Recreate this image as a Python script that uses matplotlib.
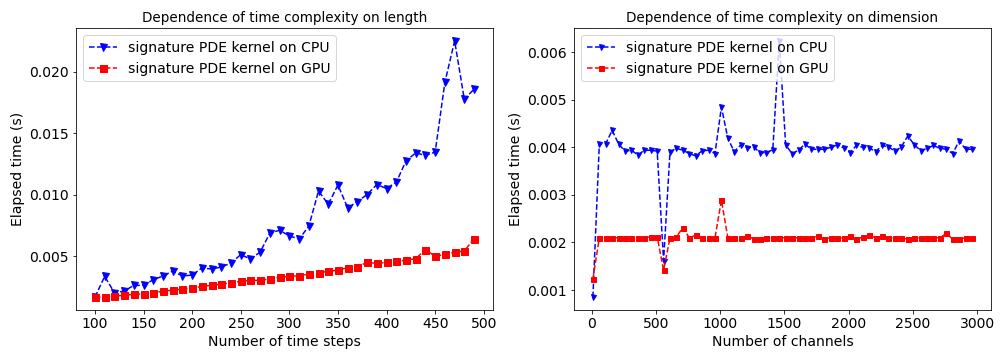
import numpy as np
import matplotlib
matplotlib.use("Agg")
import matplotlib.pyplot as plt

# Dependencia no comprimento (numero de passos de tempo)
passos = list(range(100, 500, 10))
cpu_passos = [0.00168, 0.00337, 0.00204, 0.00217, 0.00264, 0.00264, 0.00310, 0.00340,
              0.00380, 0.00340, 0.00348, 0.00405, 0.00397, 0.00413, 0.00446, 0.00514,
              0.00478, 0.00535, 0.00690, 0.00712, 0.00666, 0.00641, 0.00745, 0.01032,
              0.00924, 0.01081, 0.00894, 0.00946, 0.01003, 0.01084, 0.01052, 0.01103,
              0.01277, 0.01342, 0.01321, 0.01348, 0.01916, 0.02253, 0.01777, 0.01861]
gpu_passos = [0.00168, 0.00168, 0.00176, 0.00184, 0.00190, 0.00195, 0.00203, 0.00217,
              0.00225, 0.00233, 0.00241, 0.00255, 0.00264, 0.00274, 0.00285, 0.00296,
              0.00304, 0.00304, 0.00318, 0.00329, 0.00337, 0.00342, 0.00356, 0.00367,
              0.00378, 0.00388, 0.00408, 0.00416, 0.00451, 0.00443, 0.00451, 0.00459,
              0.00468, 0.00481, 0.00555, 0.00500, 0.00516, 0.00533, 0.00544, 0.00644]

# Dependencia na dimensao (numero de canais)
canais = list(range(10, 3000, 50))
cpu_canais = [0.00085, 0.00408, 0.00408, 0.00436, 0.00407, 0.00392, 0.00394, 0.00384,
              0.00394, 0.00394, 0.00392, 0.00162, 0.00391, 0.00398, 0.00394, 0.00387,
              0.00382, 0.00393, 0.00394, 0.00387, 0.00485, 0.00419, 0.00391, 0.00405,
              0.00399, 0.00401, 0.00389, 0.00389, 0.00395, 0.00624, 0.00405, 0.00387,
              0.00394, 0.00407, 0.00396, 0.00396, 0.00396, 0.00400, 0.00405, 0.00399,
              0.00389, 0.00404, 0.00400, 0.00399, 0.00391, 0.00404, 0.00401, 0.00392,
              0.00401, 0.00424, 0.00406, 0.00393, 0.00398, 0.00404, 0.00398, 0.00396,
              0.00387, 0.00414, 0.00396, 0.00396]
gpu_canais = [0.00124, 0.00210, 0.00210, 0.00210, 0.00210, 0.00210, 0.00210, 0.00210,
              0.00210, 0.00212, 0.00212, 0.00142, 0.00210, 0.00212, 0.00231, 0.00210,
              0.00215, 0.00210, 0.00210, 0.00210, 0.00289, 0.00210, 0.00210, 0.00210,
              0.00213, 0.00208, 0.00208, 0.00210, 0.00210, 0.00210, 0.00210, 0.00210,
              0.00210, 0.00210, 0.00210, 0.00213, 0.00207, 0.00210, 0.00210, 0.00210,
              0.00213, 0.00207, 0.00211, 0.00215, 0.00210, 0.00213, 0.00210, 0.00210,
              0.00210, 0.00207, 0.00210, 0.00210, 0.00210, 0.00210, 0.00210, 0.00219,
              0.00207, 0.00207, 0.00210, 0.00210]

plt.rcParams['font.size'] = 14

fig = plt.figure(figsize=(14, 5), dpi=72)
ax1 = fig.add_axes([0.0754, 0.139, 0.4137, 0.783])
ax2 = fig.add_axes([0.5694, 0.139, 0.4137, 0.783])

ax1.plot(passos, cpu_passos, 'b--v', markersize=7, label='signature PDE kernel on CPU')
ax1.plot(passos, gpu_passos, 'r--s', markersize=7, label='signature PDE kernel on GPU')
ax1.set_title('Dependence of time complexity on length', fontsize=13.5)
ax1.set_xlabel('Number of time steps')
ax1.set_ylabel('Elapsed time (s)')
ax1.legend(loc='upper left')

ax2.plot(canais, cpu_canais, 'b--v', markersize=5, label='signature PDE kernel on CPU')
ax2.plot(canais, gpu_canais, 'r--s', markersize=5, label='signature PDE kernel on GPU')
ax2.set_title('Dependence of time complexity on dimension', fontsize=13.5)
ax2.set_xlabel('Number of channels')
ax2.set_ylabel('Elapsed time (s)')
ax2.legend(loc='upper left')

plt.savefig('out.png', dpi=72)
plt.close()
